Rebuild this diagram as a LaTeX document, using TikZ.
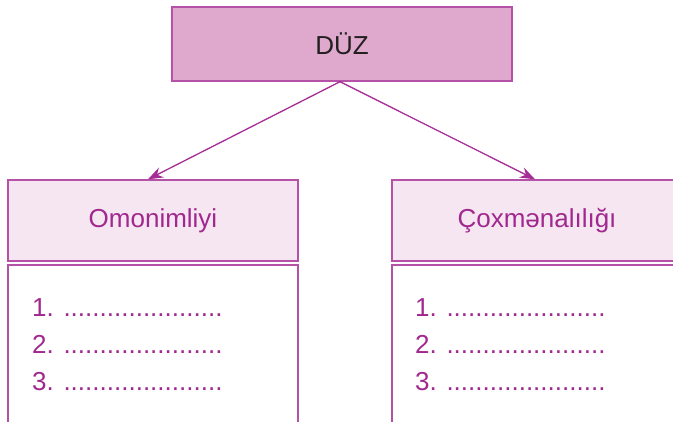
\documentclass[tikz,border=0pt]{standalone}
\usepackage{fontspec}
\setmainfont{Liberation Sans}
\usetikzlibrary{arrows.meta}
\definecolor{topfill}{HTML}{DFA9CE}
\definecolor{headfill}{HTML}{F5E6F1}
\definecolor{boxline}{HTML}{B552A8}
\definecolor{purpletext}{HTML}{A0288F}
\definecolor{arrowcol}{HTML}{A62C96}
\definecolor{darktext}{HTML}{231F20}
\tikzset{
  topbox/.style={draw=boxline, fill=topfill, line width=1.4pt, minimum width=340pt, minimum height=74pt, inner sep=0pt, text=darktext, font=\fontsize{26}{31}\selectfont},
  headbox/.style={draw=boxline, fill=headfill, line width=1.4pt, minimum width=290pt, minimum height=81pt, inner sep=0pt, text=purpletext, font=\fontsize{26}{31}\selectfont},
  bodybox/.style={draw=boxline, fill=white, line width=1.4pt, minimum width=290pt, minimum height=200pt, inner sep=0pt},
  listline/.style={anchor=base west, inner sep=0pt, text=purpletext, font=\fontsize{26}{31}\selectfont},
  conn/.style={draw=arrowcol, line width=1.3pt, -{Stealth[length=15pt,width=11pt]}}
}
\begin{document}
\begin{tikzpicture}[x=1pt,y=-1pt]
\useasboundingbox (0,0) rectangle (673,422);
\begin{scope}
\clip (0,0) rectangle (673,422);
\node[topbox] (top) at (342,44) {DÜZ};
\node[headbox] (lhead) at (153,220.5) {Omonimliyi};
\node[headbox] (rhead) at (537,220.5) {Çoxmənalılığı};
\node[bodybox] (lbody) at (153,365) {};
\node[bodybox] (rbody) at (537,365) {};
\node[listline] (l1) at (32,317) {1. ......................};
\node[listline] (l2) at (32,354) {2. ......................};
\node[listline] (l3) at (32,391) {3. ......................};
\node[listline] (r1) at (415,317) {1. ......................};
\node[listline] (r2) at (415,354) {2. ......................};
\node[listline] (r3) at (415,391) {3. ......................};
\draw[conn] ([xshift=-2pt]top.south) -- ([xshift=-5pt]lhead.north);
\draw[conn] ([xshift=-2pt]top.south) -- ([xshift=-2pt]rhead.north);
\end{scope}
\end{tikzpicture}
\end{document}
